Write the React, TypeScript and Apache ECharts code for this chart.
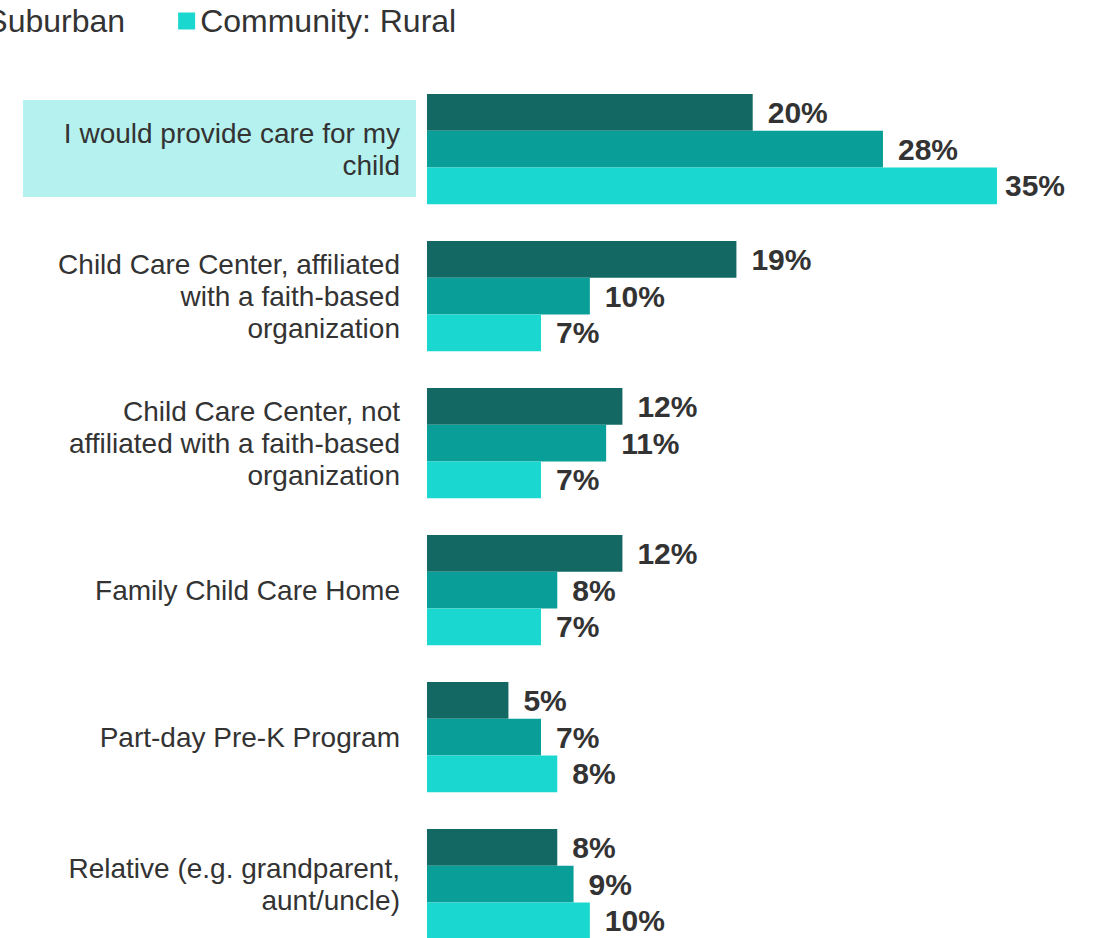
import React, { useEffect, useRef } from "react";
import * as echarts from "echarts";

const categories = [
  "I would provide care for my\nchild",
  "Child Care Center, affiliated\nwith a faith-based\norganization",
  "Child Care Center, not\naffiliated with a faith-based\norganization",
  "Family Child Care Home",
  "Part-day Pre-K Program",
  "Relative (e.g. grandparent,\naunt/uncle)",
];
const seriesNames = ["Community: Urban", "Community: Suburban", "Community: Rural"];
const urban = [20, 19, 12, 12, 5, 8];
const suburban = [28, 10, 11, 8, 7, 9];
const rural = [35, 7, 7, 7, 8, 10];
const colors = ["#136864", "#0a9e98", "#1ad8cf"];

const FONT = "'Liberation Sans', Arial, sans-serif";

export default function App() {
  const ref = useRef<HTMLDivElement>(null);
  useEffect(() => {
    if (!ref.current) return;
    const chart = echarts.init(ref.current, null, { renderer: "svg" });
    const values = [urban, suburban, rural];
    chart.setOption({
      animation: false,
      textStyle: { fontFamily: FONT },
      legend: {
        orient: "horizontal",
        left: -562,
        width: 1400,
        top: 0,
        icon: "rect",
        itemWidth: 17,
        itemHeight: 17,
        itemGap: 53,
        textStyle: { fontSize: 32, color: "#333", fontFamily: FONT },
        data: seriesNames,
      },
      graphic: [
        {
          type: "rect",
          z: -1,
          shape: { x: 23, y: 100, width: 393, height: 97 },
          style: { fill: "#b5f1ee" },
        },
      ],
      grid: { left: 427, top: 75.5, height: 882, width: 651.4, containLabel: false },
      xAxis: { type: "value", min: 0, max: 40, show: false },
      yAxis: {
        type: "category",
        inverse: true,
        data: categories,
        axisLine: { show: false },
        axisTick: { show: false },
        axisLabel: {
          margin: 27,
          fontSize: 28,
          lineHeight: 32,
          color: "#333",
          fontFamily: FONT,
        },
      },
      series: seriesNames.map((name, i) => ({
        name,
        type: "bar",
        barGap: "0%",
        barCategoryGap: "25%",
        itemStyle: { color: colors[i] },
        label: {
          show: true,
          position: "right",
          distance: 15,
          formatter: "{c}%",
          fontSize: 30,
          fontWeight: "bold",
          color: "#333",
          fontFamily: FONT,
        },
        data: values[i].map((v, j) =>
          i === 2 && j === 0 ? { value: v, label: { distance: 8 } } : v
        ),
      })),
    });
    return () => chart.dispose();
  }, []);
  return (
    <div
      style={{
        position: "absolute",
        left: 0,
        top: 0,
        width: 1097,
        height: 938,
        overflow: "hidden",
      }}
    >
      <div ref={ref} style={{ width: 1097, height: 990 }} />
    </div>
  );
}
